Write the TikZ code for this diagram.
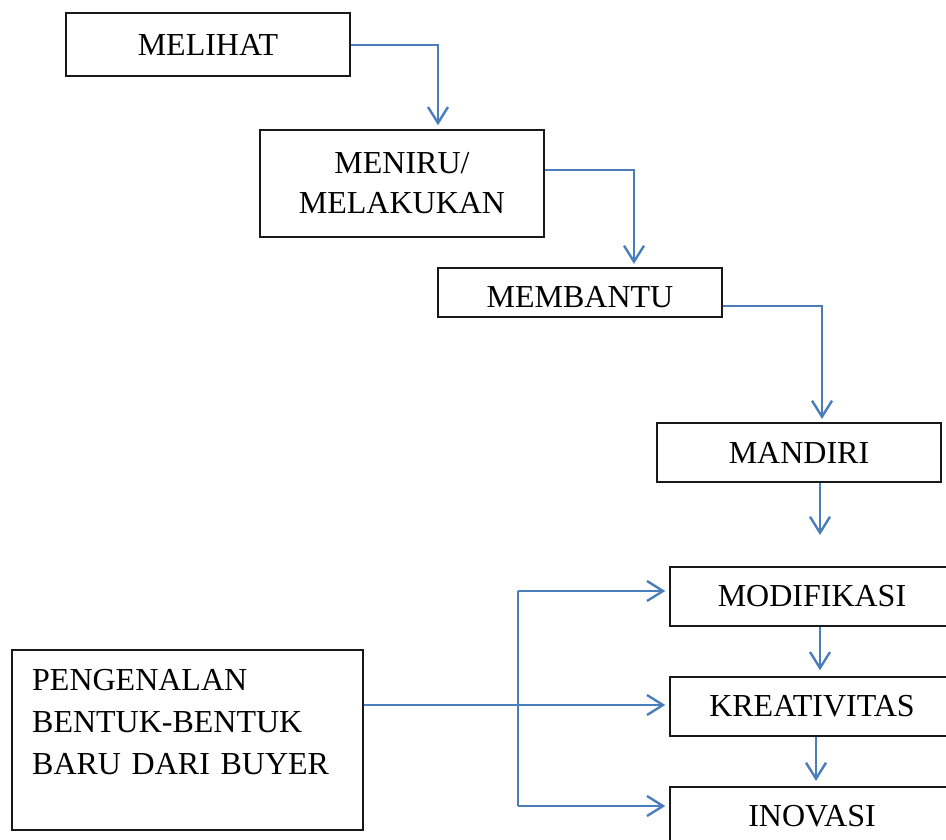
\documentclass[tikz,border=0pt]{standalone}
\usepackage{fontspec}
\setmainfont{Liberation Serif}
\usetikzlibrary{arrows.meta}
\definecolor{arrblue}{HTML}{4A7EBB}
\begin{document}
\begin{tikzpicture}[x=0.75pt,y=-0.75pt,
  box/.style={draw=black!90,line width=1.1pt,rectangle,inner sep=0pt,
    font=\fontsize{24}{30}\selectfont,align=center,minimum width=213pt},
  arr/.style={draw=arrblue,line width=1.8pt,-{Straight Barb[length=12pt,width=15pt,line width=1.8pt]}},
  ln/.style={draw=arrblue,line width=1.8pt}]
\useasboundingbox (0,0) rectangle (946,839);
\clip (0,0) rectangle (946,839);
\node[box,minimum height=47.25pt] (melihat) at (208,44.5) {MELIHAT};
\node[box,minimum height=80.25pt] (meniru) at (402,183.5) {MENIRU/\\MELAKUKAN};
\node[box,minimum height=36.75pt] (membantu) at (580,292.5) {\raisebox{-11.6pt}[0pt][0pt]{MEMBANTU}};
\node[box,minimum height=44.25pt] (mandiri) at (799,452.5) {MANDIRI};
\node[box,minimum height=44.25pt] (modifikasi) at (812,596.5) {MODIFIKASI};
\node[box,minimum height=44.25pt] (kreativitas) at (812,706.5) {KREATIVITAS};
\node[box,minimum height=44.25pt] (inovasi) at (812,816.5) {INOVASI};
\node[box,minimum width=263.25pt,minimum height=135pt,text width=233pt,align=left,
  font=\fontsize{24}{31.5}\selectfont] (pengenalan) at (187.5,740)
  {PENGENALAN\\BENTUK-BENTUK\\BARU DARI BUYER\\[-4.5pt]~};
% connectors
\coordinate (c1) at (438,45);
\draw[arr,shorten >=3pt] (melihat.east |- c1) -| ([xshift=27pt]meniru.north);
\draw[arr,shorten >=2.5pt] ([yshift=10.1pt]meniru.east) -| ([xshift=40.5pt]membantu.north);
\draw[arr,shorten >=2.5pt] ([yshift=-10.1pt]membantu.east) -| ([xshift=17.25pt]mandiri.north);
\coordinate (m1) at (820,535);
\draw[arr] (mandiri.south -| m1) -- (m1);
\draw[arr,shorten >=4.5pt] ([xshift=6pt]modifikasi.south) -- ([xshift=6pt]kreativitas.north);
\draw[arr,shorten >=4pt] ([xshift=3pt]kreativitas.south) -- ([xshift=3pt]inovasi.north);
\coordinate (p1) at (363,705);
\draw[arr,shorten >=3pt] (pengenalan.east |- p1) -- (p1 -| kreativitas.west);
\coordinate (j1) at (518,591);
\coordinate (j2) at (518,806);
\draw[ln] (j1) -- (j2);
\draw[arr,shorten >=3pt] (j1) -- (j1 -| modifikasi.west);
\draw[arr,shorten >=3pt] (j2) -- (j2 -| inovasi.west);
\end{tikzpicture}
\end{document}
